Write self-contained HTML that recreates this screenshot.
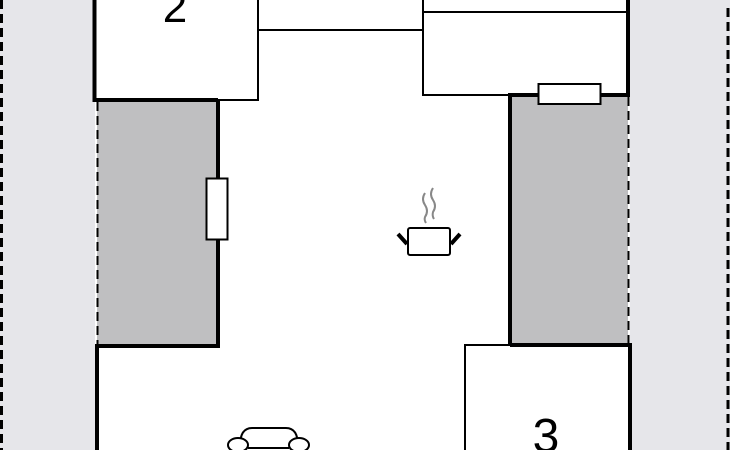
<!DOCTYPE html>
<html><head><style>body{margin:0;width:730px;height:450px;overflow:hidden;background:#fff}</style></head>
<body>
<svg width="730" height="450" viewBox="0 0 730 450" xmlns="http://www.w3.org/2000/svg">
<rect x="0" y="0" width="730" height="450" fill="#e6e6ea"/>
<rect x="95" y="0" width="535" height="450" fill="#fff"/>
<rect x="97" y="100" width="121" height="246" fill="#bfbfc1"/>
<rect x="510" y="95" width="118" height="250" fill="#bfbfc1"/>
<g stroke="#000" fill="none">
<line x1="1.5" y1="0" x2="1.5" y2="450" stroke-width="3" stroke-dasharray="9,5"/>
<line x1="728" y1="8" x2="728" y2="450" stroke-width="3" stroke-dasharray="9,5"/>
<line x1="97.5" y1="102" x2="97.5" y2="346" stroke-width="2" stroke-dasharray="9,5"/>
<line x1="628.5" y1="97" x2="628.5" y2="345" stroke-width="2" stroke-dasharray="9,5"/>
<polyline points="94.5,0 94.5,100 218,100" stroke-width="4"/>
<polyline points="218,100 258,100 258,0" stroke-width="2"/>
<line x1="258" y1="30" x2="423" y2="30" stroke-width="2"/>
<polyline points="510,95 423,95 423,0" stroke-width="2"/>
<line x1="423" y1="12" x2="627" y2="12" stroke-width="2"/>
<polyline points="628,0 628,95 510,95 510,345" stroke-width="4"/>
<polyline points="218,100 218,346 97,346 97,450" stroke-width="4"/>
<polyline points="510,345 465,345 465,450" stroke-width="2"/>
<polyline points="510,345 630,345 630,450" stroke-width="4"/>
</g>
<rect x="538.5" y="84" width="62" height="20" fill="#fff" stroke="#000" stroke-width="2"/>
<rect x="206.5" y="178.5" width="21" height="61" fill="#fff" stroke="#000" stroke-width="2"/>
<g stroke="#000" stroke-width="2" fill="#fff">
<rect x="408" y="228" width="42" height="27" rx="2"/>
<path d="M398,234 L407,244 M460,234 L451,244" stroke-width="4"/>
</g>
<g stroke="#888" stroke-width="2" fill="none">
<path d="M425,193 q-4,6 0,12 q4,6 0,12 q-1,3 1,6"/>
<path d="M433,188 q-4,6 0,12 q4,6 0,12 q-1,4 1,7"/>
</g>
<g stroke="#000" stroke-width="2" fill="#fff">
<path d="M240,446 q0,-18 12,-18 h34 q12,0 12,18"/>
<ellipse cx="238" cy="445" rx="10" ry="7"/>
<ellipse cx="299" cy="445" rx="10" ry="7"/>
<line x1="248" y1="448" x2="289" y2="448"/>
</g>
<text x="175" y="22" font-family="Liberation Sans, sans-serif" font-size="44" text-anchor="middle">2</text>
<text x="546" y="452" font-family="Liberation Sans, sans-serif" font-size="48" text-anchor="middle">3</text>
</svg>
</body></html>
